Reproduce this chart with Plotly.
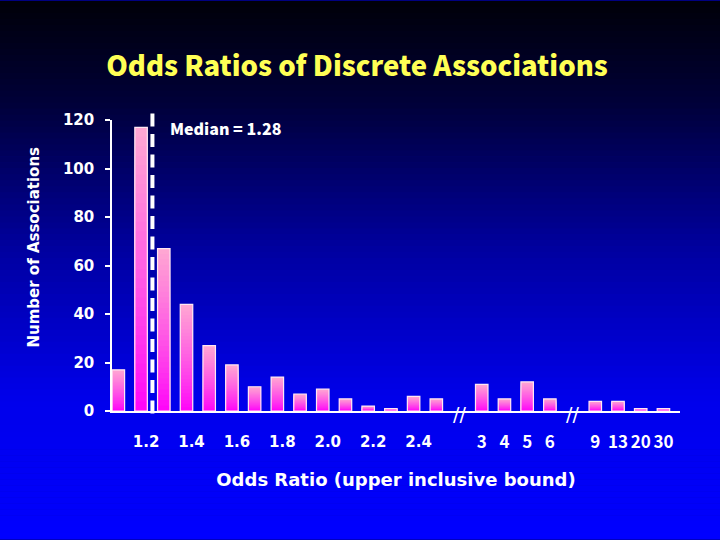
import plotly.graph_objects as go

# ---------------- data ----------------
counts = [17, 117, 67, 44, 27, 19, 10, 14, 7, 9, 5, 2, 1, 6, 5,   # 1.1 .. 2.5
          11, 5, 12, 5,                                            # 3 4 5 6
          4, 4, 1, 1]                                              # 9 13 20 30
group_sizes = [15, 4, 4]          # bars per segment, separated by a "//" break
tick_labels = ["1.2", "1.4", "1.6", "1.8", "2.0", "2.2", "2.4",
               "3", "4", "5", "6", "9", "13", "20", "30"]
tick_bar_index = [1, 3, 5, 7, 9, 11, 13, 15, 16, 17, 18, 19, 20, 21, 22]
median_label = "Median = 1.28"
median_slot = 1.5                 # position of the dashed median line (bar-slot units)
y_ticks = [0, 20, 40, 60, 80, 100, 120]

# ---------------- slot layout ----------------
slots, gaps, pos = [], [], 0
for gi, g in enumerate(group_sizes):
    for _ in range(g):
        slots.append(pos)
        pos += 1
    if gi < len(group_sizes) - 1:
        gaps.append(pos)
        pos += 1

FIG_W, FIG_H = 720, 540
ML, MR, MT, MB = 112, 40, 119.5, 128.5
PH = FIG_H - MT - MB
PW = FIG_W - ML - MR

def py2paper(py):
    return (FIG_H - MB - py) / PH

def px2paper(px):
    return (px - ML) / PW

fig = go.Figure()

# gradient bars: nested overlay bars, tallest (top colour) first
N = 30
top_rgb = (255, 168, 210)
bot_rgb = (255, 0, 250)
BW = 0.55
for k in range(N - 1, -1, -1):
    t = (k + 0.5) / N
    tt = t ** 0.85
    c = tuple(int(round(bot_rgb[i] + (top_rgb[i] - bot_rgb[i]) * tt)) for i in range(3))
    fig.add_trace(go.Bar(
        x=slots, y=[v * (k + 1) / N for v in counts],
        width=BW, marker=dict(color="rgb(%d,%d,%d)" % c, line=dict(width=0)),
        hoverinfo="skip", showlegend=False))
# outline bars (on the overlaying axis that carries the 3..30 labels)
fig.add_trace(go.Bar(
    x=slots, y=counts, width=BW, xaxis="x2",
    marker=dict(color="rgba(0,0,0,0)", line=dict(color="#ffe6f2", width=1.2)),
    showlegend=False))

# tick positions
tv1, tt1, tv2, tt2 = [], [], [], []
for lab, bi in zip(tick_labels, tick_bar_index):
    if bi < group_sizes[0]:
        tv1.append(slots[bi] + 0.22)
        tt1.append(lab)
    else:
        tv2.append(slots[bi])
        tt2.append(lab)

# background gradient shapes
stops = [(0, (0, 0, 8)), (100, (0, 0, 55)), (250, (0, 0, 160)), (400, (0, 0, 235)), (540, (0, 0, 255))]
def bg_at(py):
    for (a, ca), (b, cb) in zip(stops[:-1], stops[1:]):
        if a <= py <= b:
            t = (py - a) / (b - a)
            return tuple(int(round(ca[i] + (cb[i] - ca[i]) * t)) for i in range(3))
    return stops[-1][1]

shapes = []
STEP = 6
for py in range(0, FIG_H, STEP):
    c = bg_at(py + STEP / 2)
    shapes.append(dict(type="rect", xref="paper", yref="paper",
                       x0=px2paper(-2), x1=px2paper(FIG_W + 2),
                       y0=py2paper(py + STEP + 0.5), y1=py2paper(py),
                       fillcolor="rgb(%d,%d,%d)" % c, line=dict(width=0), layer="below"))
# median dashed line (drawn from the top so the dash pattern starts there)
shapes.append(dict(type="line", xref="x", yref="paper", x0=median_slot, x1=median_slot,
                   y0=py2paper(113), y1=py2paper(421),
                   line=dict(color="white", width=4, dash="13px,7.5px"), layer="above"))

annotations = []
for gx in gaps:
    annotations.append(dict(x=gx, y=0, xref="x", yref="y", text="//", showarrow=False,
                            font=dict(family="DejaVu Sans", size=19, color="white"),
                            yshift=-3))
annotations.append(dict(x=median_slot + 0.68, y=116.5, xref="x", yref="y", text=median_label,
                        showarrow=False, xanchor="left", yanchor="middle",
                        font=dict(family="Noto Sans CJK JP", size=16, color="white", weight=900)))
annotations.append(dict(x=px2paper(34), y=py2paper(247.5), xref="paper", yref="paper",
                        text="Number of Associations", textangle=-90, showarrow=False,
                        xanchor="center", yanchor="middle",
                        font=dict(family="DejaVu Sans", size=15, color="white", weight="bold")))

xrange = [-0.28, slots[-1] + 0.73]
fig.update_layout(
    width=FIG_W, height=FIG_H,
    margin=dict(l=ML, r=MR, t=MT, b=MB, pad=0),
    paper_bgcolor="#000080", plot_bgcolor="rgba(0,0,0,0)",
    barmode="overlay", showlegend=False,
    title=dict(text="Odds Ratios of Discrete Associations", x=357 / FIG_W, xref="container",
               xanchor="center", y=1 - 66 / FIG_H, yref="container", yanchor="middle",
               font=dict(family="Noto Sans CJK JP", size=27.5, color="#ffff55", weight=900)),
    xaxis=dict(range=xrange, showgrid=False, zeroline=False,
               showline=True, linecolor="white", linewidth=1.5,
               tickvals=tv1, ticktext=tt1, ticks="", ticklabelstandoff=16,
               tickangle=0,
               tickfont=dict(family="DejaVu Sans", size=15, color="white", weight="bold"),
               title=dict(text="Odds Ratio (upper inclusive bound)", standoff=24,
                          font=dict(family="DejaVu Sans", size=18, color="white", weight="bold")),
               automargin=False, fixedrange=True),
    xaxis2=dict(range=xrange, overlaying="x", side="bottom", showgrid=False, zeroline=False,
                showline=False, tickvals=tv2, ticktext=tt2, ticks="", ticklabelstandoff=19,
                tickangle=0,
                tickfont=dict(family="Noto Sans CJK JP", size=17, color="white", weight="bold"),
                automargin=False, fixedrange=True),
    yaxis=dict(range=[0, 120], showgrid=False, zeroline=False,
               showline=True, linecolor="white", linewidth=1.5,
               tickvals=y_ticks, ticks="outside", ticklen=5, tickcolor="white", tickwidth=1.5,
               ticklabelstandoff=8,
               tickfont=dict(family="DejaVu Sans", size=15, color="white", weight="bold"),
               automargin=False, fixedrange=True),
    shapes=shapes, annotations=annotations,
)

fig.write_html("out.html", config={"displayModeBar": False},
               post_script="document.body.style.margin='0';document.body.style.overflow='hidden';")
